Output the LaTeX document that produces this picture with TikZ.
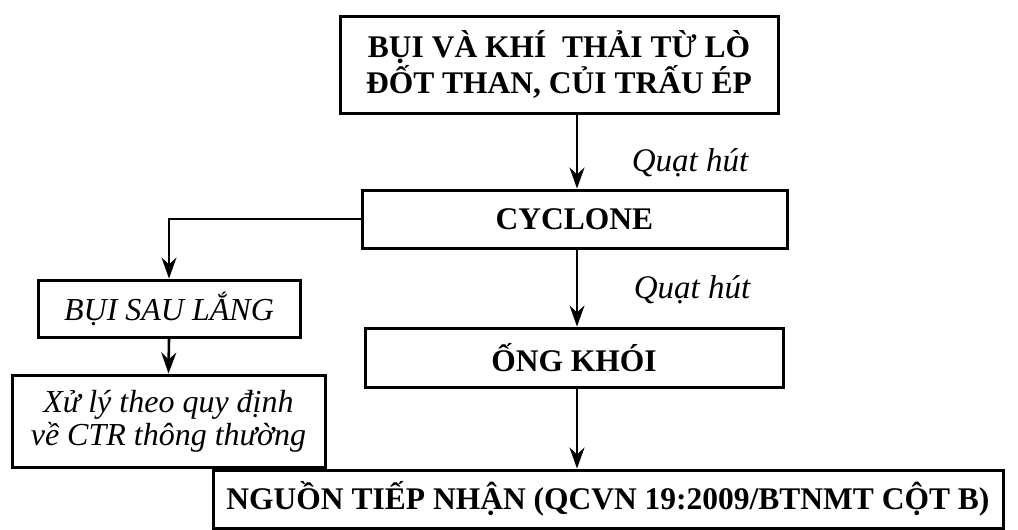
\documentclass[tikz,border=0pt]{standalone}
\usepackage{fontspec}
\setmainfont{Liberation Serif}
\usetikzlibrary{arrows.meta}
\begin{document}
\begin{tikzpicture}[x=1pt,y=-1pt,
  box/.style={draw, line width=3pt, inner sep=0pt, align=center,
    font=\fontsize{31.5}{33}\selectfont\bfseries},
  ibox/.style={box, font=\fontsize{32}{33}\selectfont\itshape},
  arr/.style={line width=2.6pt, -{Stealth[length=21pt,width=15pt,inset=7pt]}},
  lbl/.style={font=\fontsize{33}{35}\selectfont\itshape}]
\useasboundingbox (0,0) rectangle (1018,530);
\node[box, minimum width=438pt, minimum height=97pt] (src) at (559,64.5)
  {BỤI VÀ KHÍ\ \ THẢI TỪ LÒ\\ĐỐT THAN, CỦI TRẤU ÉP};
\node[box, minimum width=425pt, minimum height=58pt] (cyc) at (574.5,219) {CYCLONE};
\node[box, minimum width=418pt, minimum height=59pt] (ong) at (574,357.5) {ỐNG KHÓI};
\node[ibox, minimum width=262pt, minimum height=57pt] (bui) at (169,308.5) {BỤI SAU LẮNG};
\node[ibox, minimum width=313pt, minimum height=92pt] (xl) at (168.5,421)
  {Xử lý theo quy định\\về CTR thông thường};
\node[box, minimum width=790pt, minimum height=58pt] (ng) at (608,499)
  {NGUỒN TIẾP NHẬN (QCVN 19:2009/BTNMT CỘT B)};
\coordinate (ax) at (577,0);
\node[lbl] (q1) at (690,163) {Quạt hút};
\node[lbl] (q2) at (692,290) {Quạt hút};
\draw[arr] (src.south -| ax) -- (cyc.north -| ax);
\draw[arr] (cyc.south -| ax) -- (ong.north -| ax);
\draw[arr] (ong.south -| ax) -- (ng.north -| ax);
\draw[arr] (cyc.west) -| (bui.north);
\draw[arr] (bui.south) -- (xl.north);
\end{tikzpicture}
\end{document}
